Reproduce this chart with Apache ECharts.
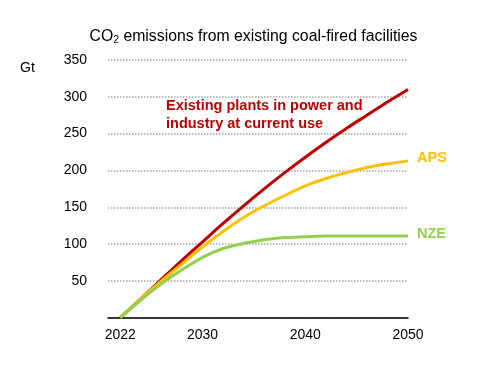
<!DOCTYPE html>
<html>
<head>
<meta charset="utf-8">
<script src="https://cdn.jsdelivr.net/npm/echarts@6/dist/echarts.min.js"></script>
<style>
html,body{margin:0;padding:0;background:#fff;}
#chart{width:485px;height:374px;}
</style>
</head>
<body>
<div id="chart"></div>
<script>
const years = [2022, 2024, 2026, 2028, 2030, 2032, 2034, 2036, 2038, 2040, 2042, 2044, 2046, 2048, 2050];
const existingPlants = [0, 26, 52, 78, 103, 128, 152, 175, 197, 218, 238, 257, 275, 293, 310];
const aps = [0, 26, 50, 73, 96, 117, 136, 152, 166, 179, 189, 197, 204, 209, 213];
const nze = [0, 24, 46, 65, 82, 94, 101, 106, 109, 110, 111, 111, 111, 111, 111];
const xTickLabels = [2022, 2030, 2040, 2050];
const seriesNames = ['Existing plants in power and\nindustry at current use', 'APS', 'NZE'];

const FONT = '"Liberation Sans", Arial, sans-serif';
const pair = arr => years.map((y, i) => [y, arr[i]]);

const chart = echarts.init(document.getElementById('chart'), null, {renderer: 'canvas'});
chart.setOption({
  animation: false,
  backgroundColor: '#ffffff',
  title: {
    text: 'CO{sub|2} emissions from existing coal-fired facilities',
    left: 248.5, textAlign: 'center', top: 22,
    textStyle: {
      fontFamily: FONT, fontSize: 15.8, fontWeight: 'normal', color: '#000',
      rich: { sub: { fontFamily: FONT, fontSize: 10.5, color: '#000', verticalAlign: 'bottom', padding: [8, 0, 0, 0] } }
    }
  },
  grid: { left: 108, right: 77, top: 60, bottom: 56.3, containLabel: false },
  xAxis: {
    type: 'value', min: 2020.8, max: 2050,
    axisLine: { show: true, lineStyle: { color: '#000', width: 1.5 } },
    axisTick: { show: false },
    splitLine: { show: false },
    axisLabel: {
      customValues: xTickLabels,
      formatter: v => String(v),
      fontFamily: FONT, fontSize: 14, color: '#000', margin: 10
    }
  },
  yAxis: {
    type: 'value', min: 0, max: 350, interval: 50,
    axisLine: { show: false },
    axisTick: { show: false },
    splitLine: { show: true, lineStyle: { color: '#a6a6a6', width: 1.5, type: [1.5, 1.5] } },
    axisLabel: {
      formatter: v => v === 0 ? '' : String(v),
      fontFamily: FONT, fontSize: 14, color: '#000', margin: 21
    }
  },
  graphic: [
    { type: 'text', left: 20, top: 61, style: { text: 'Gt', fontFamily: FONT, fontSize: 14, fill: '#000' } },
    { type: 'text', left: 166, top: 97, style: { text: seriesNames[0], fontFamily: FONT, fontSize: 14.5, fontWeight: 'bold', fill: '#c00000', lineHeight: 18 } }
  ],
  series: [
    {
      name: seriesNames[0], type: 'line', data: pair(existingPlants), smooth: 0.3,
      showSymbol: false, symbol: 'none',
      lineStyle: { color: '#c00000', width: 3 }, z: 2
    },
    {
      name: seriesNames[1], type: 'line', data: pair(aps), smooth: 0.3,
      showSymbol: false, symbol: 'none',
      lineStyle: { color: '#ffc000', width: 3 }, z: 3,
      endLabel: { show: true, formatter: seriesNames[1], fontFamily: FONT, fontSize: 14.5, fontWeight: 'bold', color: '#ffc000', distance: 9, offset: [0, -3] }
    },
    {
      name: seriesNames[2], type: 'line', data: pair(nze), smooth: 0.3,
      showSymbol: false, symbol: 'none',
      lineStyle: { color: '#92d050', width: 3 }, z: 4,
      endLabel: { show: true, formatter: seriesNames[2], fontFamily: FONT, fontSize: 14.5, fontWeight: 'bold', color: '#92d050', distance: 9, offset: [0, -2] }
    }
  ]
});
</script>
</body>
</html>
